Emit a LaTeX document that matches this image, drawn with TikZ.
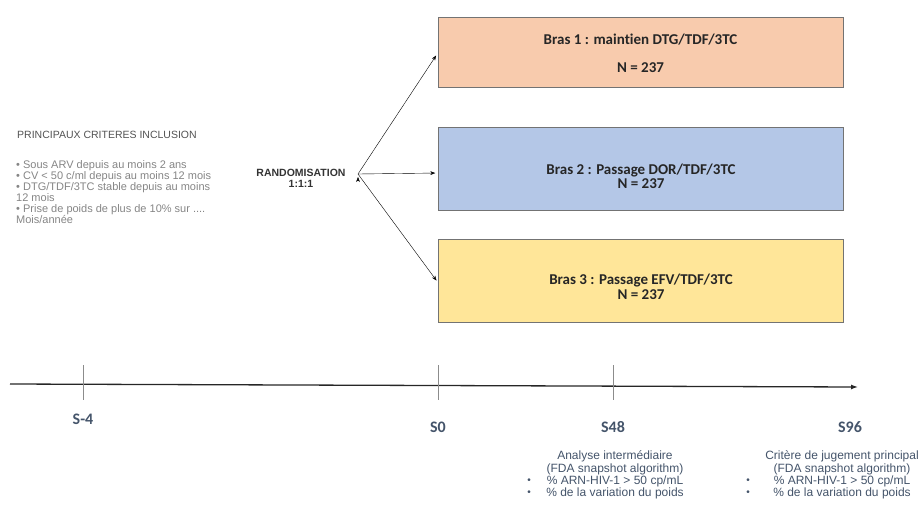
\documentclass[tikz,border=0pt]{standalone}
\usepackage{fontspec}
\setmainfont{Liberation Sans}
\newfontfamily\calfont[Ligatures=NoCommon]{Carlito}
\usetikzlibrary{arrows.meta,positioning}
\definecolor{armone}{HTML}{F8CBAD}
\definecolor{armtwo}{HTML}{B4C7E7}
\definecolor{armthree}{HTML}{FFE699}
\definecolor{slate}{HTML}{44546A}
\tikzset{armbox/.style={
    % The shape:
    rectangle,
    % The size:
    minimum width=405pt,
    minimum height=70pt,
    % The border:
    draw=black!55,
    },
    armtext/.style={
    align=center,
    font=\calfont\bfseries\fontsize{15}{14.5}\selectfont,
    text=black!85,
    },
    crittext/.style={
    align=left,
    anchor=base west,
    inner sep=0pt,
    font=\fontsize{11}{11}\selectfont,
    text=black!48,
    },
    week/.style={
    font=\calfont\bfseries\fontsize{16}{18}\selectfont,
    text=slate,
    },
    endpoint/.style={
    align=center,
    anchor=base,
    inner sep=0pt,
    font=\fontsize{12}{12.2}\selectfont,
    text=slate,
    },
    bulletmark/.style={
    font=\fontsize{10}{12}\selectfont,
    text=slate,
    inner sep=0pt,
    },
    weektick/.style={draw=black!45,line width=0.6pt},
}

\begin{document}
\begin{tikzpicture}[x=1pt,y=-1pt]
    \useasboundingbox (0,0) rectangle (922,520);

    % inclusion criteria
    \node (crit)  [crittext,text=black!68,font=\fontsize{10.5}{11}\selectfont] at (17,138.5) {PRINCIPAUX CRITERES INCLUSION};
    \node (critlist) [crittext] at (16,223) {%
      • Sous ARV depuis au moins 2 ans\\
      • CV < 50 c/ml depuis au moins 12 mois\\
      • DTG/TDF/3TC stable depuis au moins\\
      12 mois\\
      • Prise de poids de plus de 10\% sur ....\\
      Mois/année};

    % the three arms
    \node (arm1) [armbox,fill=armone] at (640.5,52) {};
    \node (arm2) [armbox,fill=armtwo,minimum height=83pt] at (641,168.5) {};
    \node (arm3) [armbox,fill=armthree,minimum height=83pt] at (641,280.5) {};
    \node (arm1text) [armtext] at ([yshift=-1.5pt]arm1.center) {Bras 1 : maintien DTG/TDF/3TC\\[14pt] N = 237};
    \node (arm2text) [armtext] at ([yshift=-8pt]arm2.center) {Bras 2 : Passage DOR/TDF/3TC\\ N = 237};
    \node (arm3text) [armtext] at ([yshift=-6.5pt]arm3.center) {Bras 3 : Passage EFV/TDF/3TC\\ N = 237};

    \node (rando) [align=center,font=\bfseries\fontsize{10.5}{11}\selectfont,text=black!80] at (301,178.5) {RANDOMISATION\\1:1:1};
    \coordinate (split) at (358,174);
    \path[draw,-{Stealth[length=5pt]},shorten >=3pt]
      (split) edge ([yshift=-1pt]arm1.west)
      (split) edge ([yshift=-4.5pt]arm2.west)
      (split) edge ([yshift=-2.5pt]arm3.west);

    % time line
    \coordinate (tstart) at (10,384);
    \coordinate (tend) at (858,387);
    \draw[line width=1.3pt,draw=black!85,-{Latex[length=7pt,width=5pt]}] (tstart) -- (tend);
    \foreach \x in {83,438,613}
      \draw[weektick] (\x,365) -- (\x,400);

    \node (sm4) [week] at (83,419) {S-4};
    \node (s0)  [week] at (438,427) {S0};
    \node (s48) [week] at (613,427) {S48};
    \node (s96) [week] at (850,427) {S96};

    \node (s48text) [endpoint] at (615,496.5) {Analyse intermédiaire\\(FDA snapshot algorithm)\\\% ARN-HIV-1 > 50 cp/mL\\\% de la variation du poids};
    \node (s96text) [endpoint] at (842,496.5) {Critère de jugement principal\\(FDA snapshot algorithm)\\\% ARN-HIV-1 > 50 cp/mL\\\% de la variation du poids};
    \foreach \y [count=\i] in {481,493} {
      \node (b48\i) [bulletmark] at (529,\y) {•};
      \node (b96\i) [bulletmark] at (748,\y) {•};
    }
\end{tikzpicture}
\end{document}
